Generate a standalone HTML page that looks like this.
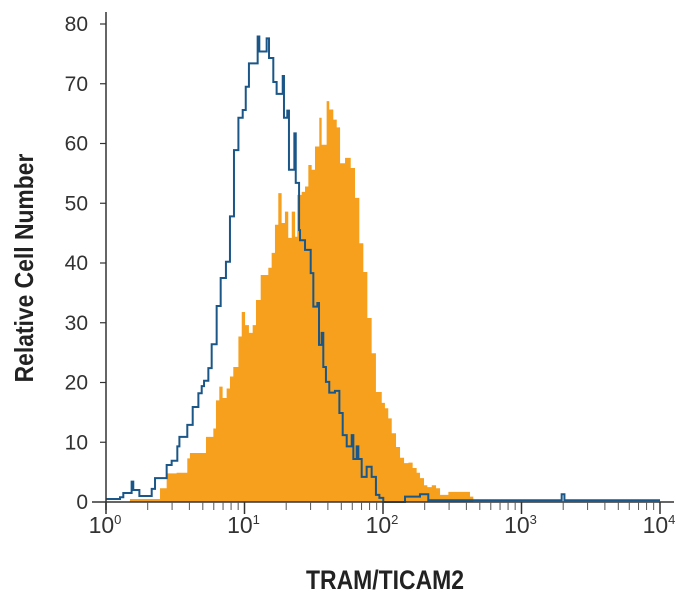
<!DOCTYPE html>
<html><head><meta charset="utf-8"><style>
html,body{margin:0;padding:0;background:#fff;}
svg{display:block;font-family:"Liberation Sans Narrow","Liberation Sans",sans-serif;}
</style></head><body>
<svg id="chart" width="690" height="601" viewBox="0 0 690 601"></svg>
<script>
// Bin starting positions (log10 of fluorescence) and relative cell counts
const orangeBinStarts=[0.173,0.390,0.438,0.510,0.587,0.606,0.722,0.775,0.794,0.818,0.842,0.871,0.895,0.919,0.956,0.980,1.004,1.032,1.059,1.083,1.117,1.172,1.196,1.220,1.244,1.268,1.292,1.316,1.341,1.365,1.381,1.413,1.437,1.461,1.485,1.509,1.540,1.557,1.593,1.612,1.641,1.666,1.690,1.726,1.767,1.798,1.829,1.858,1.887,1.918,1.949,1.991,2.014,2.038,2.063,2.094,2.123,2.152,2.183,2.214,2.243,2.267,2.296,2.320,2.352,2.383,2.412,2.472,2.628];
const orangeCounts=[0.5,2.3,4.8,4.9,7.3,8.2,10.9,12.3,17,19.3,17.4,19,21,22.6,27.7,31.8,29.6,28.3,29.6,33.8,38,39.2,41.7,46.4,51.7,46.7,48.6,44.2,48.6,44.4,51.4,51.9,52.8,56.4,55.6,59.5,64.3,59.8,67.1,65.7,64,62.7,56.7,57.6,55.9,50.9,43.3,38.5,30.8,24.9,18.4,16.6,15.7,14,11.5,9.2,7.4,6.5,6.6,5.7,4.9,4,2.8,2.5,2.8,2.3,1.2,1.7,0.9];
const orangeEnd=2.652;
const blueBinStarts=[0.0,0.101,0.125,0.185,0.197,0.241,0.330,0.354,0.438,0.474,0.515,0.530,0.587,0.626,0.667,0.691,0.708,0.739,0.763,0.799,0.828,0.866,0.895,0.924,0.956,0.987,1.009,1.032,1.095,1.107,1.160,1.177,1.208,1.232,1.276,1.285,1.309,1.321,1.360,1.370,1.394,1.401,1.437,1.478,1.497,1.526,1.538,1.557,1.569,1.588,1.612,1.653,1.685,1.709,1.738,1.774,1.786,1.810,1.822,1.846,1.882,1.918,1.949,1.974,2.002,2.159,2.267,2.327,3.29,3.31];
const blueCounts=[0.5,0.8,1.5,3.4,2,1,2.2,4,6.2,6.9,9.3,10.9,12.9,15.9,18.2,19.4,20.3,22.4,26.4,32.8,37.5,40.2,47.8,58.9,64.3,65.6,69.5,73.4,77.9,75.4,77.6,74.3,70.3,68.3,71.3,64.3,65.5,55.6,61.7,53.4,45.5,43.8,42.2,38.3,32.7,33.3,26.3,28.3,22.6,20.1,18.3,18.6,14.9,11.2,9.3,11.2,7.2,9.3,7.2,4.2,5.9,4.2,1.2,0.7,0,0.9,1.3,0.3,1.3,0.3];
const blueEnd=4.0;
const yTicks=[0,10,20,30,40,50,60,70,80];
const xDecades=[0,1,2,3,4];

const NS="http://www.w3.org/2000/svg";
const svg=document.getElementById('chart');
const X0=106,X1=660,Y0=502,Y80=24;
function xs(l){return X0+(X1-X0)*l/4;}
function ys(v){return Y0-(Y0-Y80)*v/80;}
function mk(tag,attrs,parent){const e=document.createElementNS(NS,tag);for(const k in attrs)e.setAttribute(k,attrs[k]);(parent||svg).appendChild(e);return e;}
function stepPath(starts,counts,end,close){
  let d='M'+xs(starts[0])+','+(close?Y0:ys(counts[0]));
  for(let i=0;i<starts.length;i++){
    const x0=xs(starts[i]),x1=xs(i+1<starts.length?starts[i+1]:end),y=ys(counts[i]);
    d+=' L'+x0+','+y+' L'+x1+','+y;
  }
  if(close)d+=' L'+xs(end)+','+Y0+' Z';
  return d;
}
const orange=mk('path',{d:stepPath(orangeBinStarts,orangeCounts,orangeEnd,true),fill:'#f7a01e',stroke:'none'});


const blue=mk('path',{d:stepPath(blueBinStarts,blueCounts,blueEnd,false),fill:'none',stroke:'#1a5687','stroke-width':'2'});



const yAxis=mk('line',{x1:X0,y1:12,x2:X0,y2:510,stroke:'#333','stroke-width':'1.5'});


const xAxis=mk('line',{x1:92,y1:Y0,x2:674,y2:Y0,stroke:'#333','stroke-width':'1.5'});



yTicks.forEach(v=>{
  const y=ys(v);
  if(v>0){const t=mk('line',{x1:X0-6,y1:y,x2:X0,y2:y,stroke:'#333','stroke-width':'1.2'});
  
  }
  const lb=mk('text',{x:0,y:0,'text-anchor':'end','font-size':'21',fill:'#333',transform:'translate(88,'+(y+7)+')'});
  lb.textContent=v;
  
  
});
xDecades.forEach(d=>{
  const x=xs(d);
  const t=mk('line',{x1:x,y1:Y0,x2:x,y2:Y0+12,stroke:'#333','stroke-width':'1.5'});
  
  
  if(d<4){for(let m=2;m<=9;m++){
    const xm=xs(d+Math.log10(m));
    const mt=mk('line',{x1:xm,y1:Y0,x2:xm,y2:Y0+8,stroke:'#555','stroke-width':'1'});
    
    
  }}
  const lb=mk('text',{x:0,y:0,'text-anchor':'middle','font-size':'23',fill:'#333',transform:'translate('+(x-1)+',533)'});
  
  
  lb.textContent='10';
  const sup=mk('tspan',{dy:'-9','font-size':'13'},lb);
  sup.textContent=d;
});
const xt=mk('text',{x:0,y:0,'text-anchor':'middle','font-size':'27','font-weight':'bold',fill:'#222',transform:'translate(385,589) scale(0.85,1)'});
xt.textContent='TRAM/TICAM2';


const yt=mk('text',{x:0,y:0,'text-anchor':'middle','font-size':'26','font-weight':'bold',fill:'#222',transform:'translate(33,268) rotate(-90) scale(0.88,1)'});
yt.textContent='Relative Cell Number';


</script>
</body></html>
